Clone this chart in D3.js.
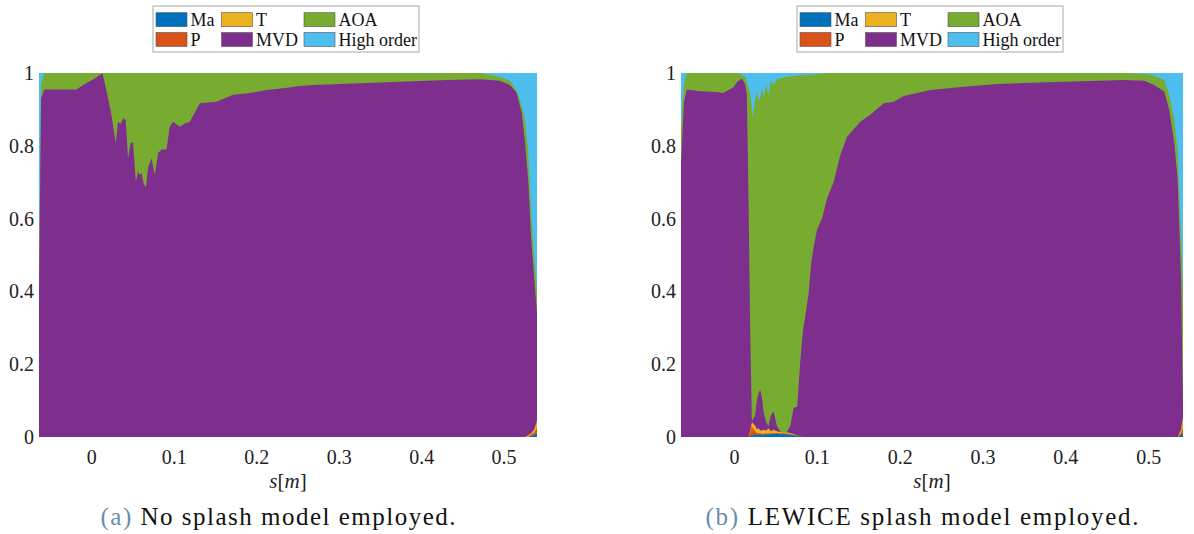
<!DOCTYPE html>
<html>
<head>
<meta charset="utf-8">
<script src="https://cdn.jsdelivr.net/npm/d3@7"></script>
<style>
  body { margin: 0; background: #fff; }
  text { font-family: "Liberation Serif", "DejaVu Serif", serif; }
</style>
</head>
<body>
<div id="chart"></div>
<script>
// series order = stacking order (bottom -> top)
var keys   = ["Ma", "P", "T", "MVD", "AOA", "High order"];
var colors = ["#0072BD", "#D95319", "#EDB120", "#7E2F8E", "#77AC30", "#4DBEEE"];

// (a) no splash model
var sA = [-0.0635,-0.061,-0.057,-0.018,-0.008,0.004,0.0135,0.018,0.024,0.0296,0.0324,0.0357,0.0385,0.0417,0.0445,0.0475,0.0506,0.0539,0.0567,0.0587,0.0608,0.0636,0.066,0.0688,0.0729,0.0769,0.081,0.085,0.0911,0.0951,0.0991,0.1073,0.1133,0.1194,0.1316,0.1518,0.172,0.1922,0.2125,0.2326,0.2529,0.2687,0.35,0.431,0.4714,0.4956,0.5078,0.5159,0.522,0.526,0.53,0.5333,0.537,0.5405];
var maA  = [0,0,0,0,0,0,0,0,0,0,0,0,0,0,0,0,0,0,0,0,0,0,0,0,0,0,0,0,0,0,0,0,0,0,0,0,0,0,0,0,0,0,0,0,0,0,0,0,0,0,0,0.003,0.005,0.01];
var pA   = [0,0,0,0,0,0,0,0,0,0,0,0,0,0,0,0,0,0,0,0,0,0,0,0,0,0,0,0,0,0,0,0,0,0,0,0,0,0,0,0,0,0,0,0,0,0,0,0,0,0,0,0.003,0.007,0.015];
var tA   = [0,0,0,0,0,0,0,0,0,0,0,0,0,0,0,0,0,0,0,0,0,0,0,0,0,0,0,0,0,0,0,0,0,0,0,0,0,0,0,0,0,0,0,0,0,0,0,0,0,0,0.005,0.004,0.008,0.02];
var mvdA = [0.40,0.93,0.955,0.955,0.97,0.985,0.999,0.955,0.89,0.807,0.866,0.86,0.876,0.87,0.766,0.807,0.81,0.701,0.73,0.72,0.725,0.696,0.686,0.74,0.766,0.72,0.78,0.79,0.79,0.852,0.866,0.852,0.861,0.866,0.917,0.921,0.94,0.945,0.953,0.958,0.964,0.967,0.974,0.981,0.983,0.979,0.967,0.945,0.89,0.81,0.695,0.54,0.42,0.295];
var aoaA = [0.05,0.04,0.045,0.045,0.03,0.015,0.001,0.045,0.11,0.193,0.134,0.14,0.124,0.13,0.234,0.193,0.19,0.299,0.27,0.28,0.275,0.304,0.314,0.26,0.234,0.28,0.22,0.21,0.21,0.148,0.134,0.148,0.139,0.134,0.083,0.079,0.06,0.055,0.047,0.042,0.036,0.033,0.026,0.019,0.017,0.011,0.011,0.006,0.02,0.06,0.08,0.07,0.06,0.06];
var hiA  = [0.55,0.03,0,0,0,0,0,0,0,0,0,0,0,0,0,0,0,0,0,0,0,0,0,0,0,0,0,0,0,0,0,0,0,0,0,0,0,0,0,0,0,0,0,0,0,0.01,0.022,0.049,0.09,0.13,0.22,0.38,0.50,0.60];

// (b) LEWICE splash model
var sB = [-0.064,-0.0604,-0.0571,-0.041,-0.0208,-0.0132,-0.001,0.0038,0.0094,0.0134,0.0155,0.0174,0.0195,0.0215,0.0223,0.0255,0.0276,0.0295,0.0316,0.0336,0.0356,0.0388,0.0416,0.0445,0.0477,0.0518,0.0558,0.0598,0.0642,0.0679,0.0719,0.0763,0.08,0.0836,0.086,0.09,0.0933,0.096,0.1002,0.1062,0.1123,0.1202,0.1283,0.1364,0.1525,0.1646,0.1807,0.1928,0.2049,0.2372,0.2775,0.3179,0.3985,0.471,0.4952,0.5073,0.5194,0.5255,0.5315,0.5356,0.5396,0.542];
var maB  = [0,0,0,0,0,0,0,0,0,0,0,0,0.002,0.005,0.005,0.006,0.006,0.006,0.007,0.006,0.006,0.007,0.007,0.008,0.008,0.008,0.008,0.008,0.007,0.006,0.005,0.003,0.002,0,0,0,0,0,0,0,0,0,0,0,0,0,0,0,0,0,0,0,0,0,0,0,0,0,0,0,0.005,0.01];
var pB   = [0,0,0,0,0,0,0,0,0,0,0,0,0.01,0.025,0.02,0.01,0.005,0.004,0.003,0.002,0.002,0.003,0.002,0.002,0.002,0.003,0.002,0.002,0.002,0.001,0.001,0,0,0,0,0,0,0,0,0,0,0,0,0,0,0,0,0,0,0,0,0,0,0,0,0,0,0,0,0,0.005,0.015];
var tB   = [0,0,0,0,0,0,0,0,0,0,0,0,0.005,0.01,0.015,0.015,0.01,0.015,0.008,0.01,0.012,0.008,0.015,0.006,0.01,0.005,0.004,0.003,0.004,0.003,0.002,0.001,0,0,0,0,0,0,0,0,0,0,0,0,0,0,0,0,0,0,0,0,0,0,0,0,0,0,0,0,0.01,0.03];
var mvdB = [0.75,0.92,0.955,0.95,0.948,0.945,0.96,0.975,0.985,0.97,0.94,0.67,0.283,0.01,0.005,0.029,0.079,0.095,0.112,0.092,0.05,0.022,0.006,0.044,0.05,0.014,0.001,0,0.002,0.02,0.072,0.079,0.208,0.30,0.33,0.395,0.48,0.52,0.57,0.60,0.655,0.70,0.775,0.825,0.866,0.885,0.917,0.921,0.937,0.953,0.962,0.970,0.976,0.981,0.979,0.967,0.949,0.898,0.807,0.706,0.42,0.025];
var aoaB = [0.10,0.05,0.045,0.05,0.052,0.055,0.04,0.025,0.01,0.02,0.036,0.288,0.644,0.86,0.831,0.866,0.849,0.806,0.80,0.848,0.865,0.927,0.91,0.918,0.897,0.953,0.97,0.975,0.975,0.961,0.912,0.91,0.784,0.694,0.665,0.60,0.515,0.475,0.427,0.398,0.345,0.30,0.225,0.175,0.134,0.115,0.083,0.079,0.063,0.047,0.038,0.03,0.024,0.019,0.018,0.026,0.031,0.042,0.063,0.074,0.11,0.32];
var hiB  = [0.15,0.03,0,0,0,0,0,0,0.005,0.01,0.024,0.042,0.056,0.09,0.124,0.074,0.051,0.074,0.07,0.042,0.065,0.033,0.06,0.022,0.033,0.017,0.015,0.012,0.01,0.009,0.008,0.007,0.006,0.006,0.005,0.005,0.005,0.005,0.003,0.002,0,0,0,0,0,0,0,0,0,0,0,0,0,0,0.003,0.007,0.02,0.06,0.13,0.22,0.45,0.60];

var yTicks = [0, 0.2, 0.4, 0.6, 0.8, 1];
var xTicks = [0, 0.1, 0.2, 0.3, 0.4, 0.5];

var width = 1194, height = 534;

var svg = d3.select("#chart")
    .append("svg")
    .attr("width", width)
    .attr("height", height);

var panels = [
    { s: sA, cols: [maA, pA, tA, mvdA, aoaA, hiA], x0: 39, w: 498,
      tag: "(a)", caption: "No splash model employed.", capLen: 355 },
    { s: sB, cols: [maB, pB, tB, mvdB, aoaB, hiB], x0: 681, w: 502,
      tag: "(b)", caption: "LEWICE splash model employed.", capLen: 433 }
];

var plotTop = 73, plotBottom = 437;

panels.forEach(function(p) {
    var rows = p.s.map(function(s, i) {
        var r = { s: s };
        keys.forEach(function(k, j) { r[k] = p.cols[j][i]; });
        return r;
    });
    var stacked = d3.stack().keys(keys)(rows);

    var x = d3.scaleLinear().domain(d3.extent(p.s)).range([p.x0, p.x0 + p.w]);
    var y = d3.scaleLinear().domain([0, 1]).range([plotBottom, plotTop]);

    // paint each layer down to the baseline, top layer first -> no seams
    var area = d3.area()
        .x(function(d) { return x(d.data.s); })
        .y0(y(0))
        .y1(function(d) { return y(d[1]); });

    var g = svg.append("g");
    g.selectAll("path")
        .data(stacked.slice().reverse())
        .enter()
        .append("path")
        .attr("fill", function(d) { return colors[d.index]; })
        .attr("d", area);

    // axes (labels only)
    var ya = svg.append("g")
        .attr("transform", "translate(" + p.x0 + ",0)")
        .call(d3.axisLeft(y).tickValues(yTicks).tickSize(0).tickPadding(5)
              .tickFormat(function(d) { return String(d); }));
    ya.select(".domain").remove();
    ya.selectAll("text").attr("font-size", 20).attr("font-family", "Liberation Serif").attr("fill", "#222");

    var xa = svg.append("g")
        .attr("transform", "translate(0," + plotBottom + ")")
        .call(d3.axisBottom(x).tickValues(xTicks).tickSize(0).tickPadding(13)
              .tickFormat(function(d) { return String(d); }));
    xa.select(".domain").remove();
    xa.selectAll("text").attr("font-size", 20).attr("font-family", "Liberation Serif").attr("fill", "#222");

    var cx = p.x0 + p.w / 2;

    // x label s[m]
    var xl = svg.append("text")
        .attr("x", cx)
        .attr("y", 488)
        .attr("text-anchor", "middle")
        .attr("font-size", 21)
        .attr("fill", "#222");
    xl.append("tspan").attr("font-style", "italic").text("s");
    xl.append("tspan").text("[");
    xl.append("tspan").attr("font-style", "italic").text("m");
    xl.append("tspan").text("]");

    // caption
    var cap = svg.append("text")
        .attr("x", cx - 10)
        .attr("y", 525)
        .attr("text-anchor", "middle")
        .attr("font-size", 25)
        .attr("textLength", p.capLen)
        .attr("lengthAdjust", "spacing")
        .attr("fill", "#111");
    cap.append("tspan").attr("fill", "#6a8cae").text(p.tag);
    cap.append("tspan").text(" " + p.caption);

    // legend
    var lx = cx - 135, ly = 6;
    var lg = svg.append("g").attr("transform", "translate(" + lx + "," + ly + ")");
    lg.append("rect")
        .attr("width", 266).attr("height", 46)
        .attr("fill", "#fff").attr("stroke", "#a8a8a8").attr("stroke-width", 1);
    var colX = [3, 68.5, 151];
    var rowY = [13.7, 33.5];
    keys.forEach(function(k, i) {
        var c = Math.floor(i / 2), r = i % 2;
        lg.append("rect")
            .attr("x", colX[c]).attr("y", rowY[r] - 7)
            .attr("width", 31).attr("height", 14)
            .attr("fill", colors[i]).attr("stroke", "#555").attr("stroke-width", 0.6);
        lg.append("text")
            .attr("x", colX[c] + 34.5).attr("y", rowY[r] + 6)
            .attr("font-size", 18)
            .attr("fill", "#111")
            .text(k);
    });
});
</script>
</body>
</html>
